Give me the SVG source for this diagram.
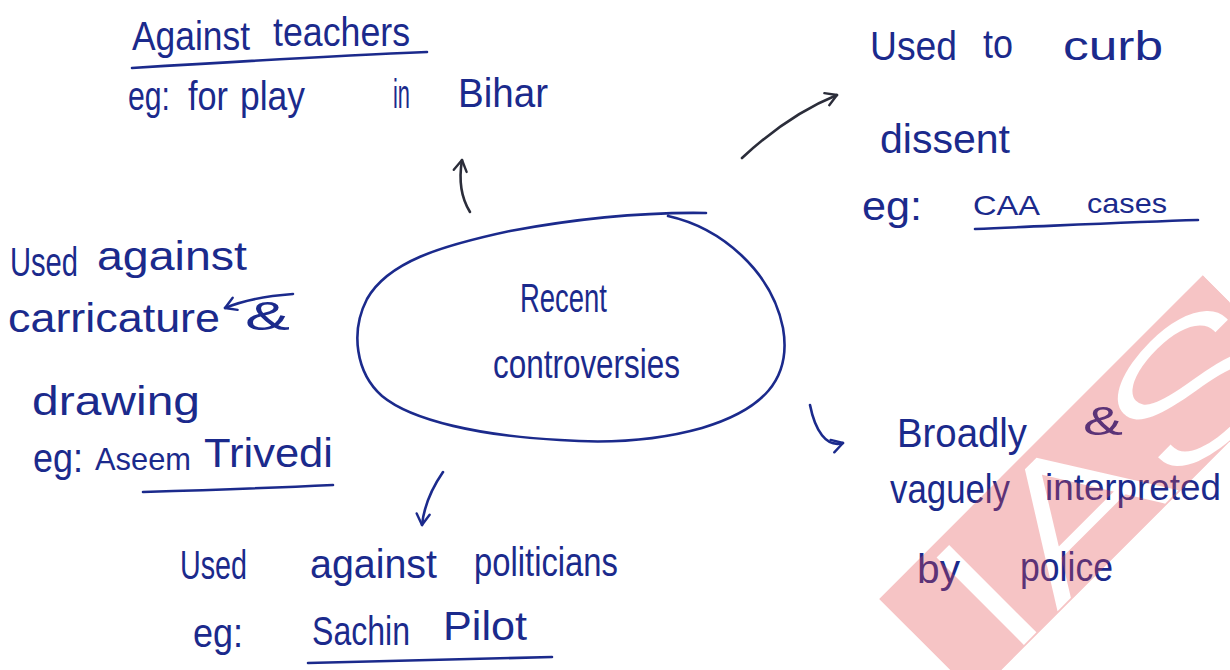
<svg xmlns="http://www.w3.org/2000/svg" width="1230" height="670" viewBox="0 0 1230 670">
  <style>
    .hw { font-family: "Liberation Sans", "DejaVu Sans", sans-serif; font-size: 40px; fill: #1b2a8c; }
    .sm { font-size: 28px; }
    .ink { fill: none; stroke: #1b2a8c; stroke-width: 2.6; stroke-linecap: round; stroke-linejoin: round; }
    .dark { stroke: #2b2d3a; }
  </style>
  <defs>
    <marker id="barb" viewBox="0 0 16 16" refX="14" refY="8" markerWidth="16" markerHeight="16" markerUnits="userSpaceOnUse" orient="auto">
      <path d="M3,1.5 L14,8 L3,14.5" fill="none" stroke="context-stroke" stroke-width="2.4" stroke-linecap="round" stroke-linejoin="round"/>
    </marker>
    <mask id="wm-letters" maskUnits="userSpaceOnUse" x="150" y="1000" width="560" height="230">
      <rect x="198" y="1045" width="458" height="137" fill="#fff"/>
      <text x="240" y="1178" font-family="Roboto, 'Liberation Sans', sans-serif" font-weight="200" font-size="168" textLength="412" lengthAdjust="spacingAndGlyphs" fill="#000" stroke="#000" stroke-width="4">IAS</text>
    </mask>
  </defs>

  <rect width="1230" height="670" fill="#ffffff"/>

  <!-- central idea -->
  <g id="node-center">
    <path class="ink" d="M668,216 C722,228 772,272 783,328 C792,380 762,410 702,428 C652,442 600,443 560,440 C482,436 412,421 382,396 C356,373 350,332 367,299 C388,262 440,246 510,231 C580,218 642,212 706,213"/>
    <text class="hw" x="520" y="312" textLength="87" lengthAdjust="spacingAndGlyphs">Recent</text>
    <text class="hw" x="493" y="378" textLength="187" lengthAdjust="spacingAndGlyphs">controversies</text>
  </g>

  <!-- top left: teachers -->
  <g id="node-teachers">
    <text class="hw" x="132" y="50" textLength="118" lengthAdjust="spacingAndGlyphs">Against</text>
    <text class="hw" x="273" y="46" textLength="137" lengthAdjust="spacingAndGlyphs">teachers</text>
    <path class="ink" d="M132,68 C230,62 330,56 427,52"/>
    <text class="hw" x="128" y="110" textLength="42" lengthAdjust="spacingAndGlyphs">eg:</text>
    <text class="hw" x="188" y="110" textLength="40" lengthAdjust="spacingAndGlyphs">for</text>
    <text class="hw" x="240" y="110" textLength="65" lengthAdjust="spacingAndGlyphs">play</text>
    <text class="hw" x="393" y="108" textLength="17" lengthAdjust="spacingAndGlyphs">in</text>
    <text class="hw" x="458" y="107" textLength="90" lengthAdjust="spacingAndGlyphs">Bihar</text>
  </g>

  <!-- top right: dissent -->
  <g id="node-dissent">
    <text class="hw" x="870" y="60" textLength="87" lengthAdjust="spacingAndGlyphs">Used</text>
    <text class="hw" x="983" y="58" textLength="30" lengthAdjust="spacingAndGlyphs">to</text>
    <text class="hw" x="1063" y="60" textLength="100" lengthAdjust="spacingAndGlyphs">curb</text>
    <text class="hw" x="880" y="153" textLength="130" lengthAdjust="spacingAndGlyphs">dissent</text>
    <text class="hw" x="862" y="220" textLength="60" lengthAdjust="spacingAndGlyphs">eg:</text>
    <text class="hw sm" x="973" y="215" textLength="67" lengthAdjust="spacingAndGlyphs">CAA</text>
    <text class="hw sm" x="1087" y="213" textLength="80" lengthAdjust="spacingAndGlyphs">cases</text>
    <path class="ink" d="M975,229 C1050,226 1130,222 1198,220"/>
  </g>

  <!-- left: caricature -->
  <g id="node-caricature">
    <text class="hw" x="10" y="276" textLength="68" lengthAdjust="spacingAndGlyphs">Used</text>
    <text class="hw" x="97" y="270" textLength="150" lengthAdjust="spacingAndGlyphs">against</text>
    <text class="hw" x="8" y="332" textLength="212" lengthAdjust="spacingAndGlyphs">carricature</text>
    <text class="hw" x="245" y="330" textLength="45" lengthAdjust="spacingAndGlyphs">&amp;</text>
    <text class="hw" x="32" y="415" textLength="168" lengthAdjust="spacingAndGlyphs">drawing</text>
    <text class="hw" x="33" y="472" textLength="50" lengthAdjust="spacingAndGlyphs">eg:</text>
    <text class="hw" x="95" y="470" font-size="32" style="font-size:32px" textLength="96" lengthAdjust="spacingAndGlyphs">Aseem</text>
    <text class="hw" x="204" y="467" textLength="129" lengthAdjust="spacingAndGlyphs">Trivedi</text>
    <path class="ink" d="M143,492 C210,490 270,488 333,485"/>
  </g>

  <!-- bottom: politicians -->
  <g id="node-politicians">
    <text class="hw" x="180" y="579" textLength="67" lengthAdjust="spacingAndGlyphs">Used</text>
    <text class="hw" x="310" y="578" textLength="127" lengthAdjust="spacingAndGlyphs">against</text>
    <text class="hw" x="474" y="576" textLength="144" lengthAdjust="spacingAndGlyphs">politicians</text>
    <text class="hw" x="193" y="647" textLength="50" lengthAdjust="spacingAndGlyphs">eg:</text>
    <text class="hw" x="312" y="645" textLength="98" lengthAdjust="spacingAndGlyphs">Sachin</text>
    <text class="hw" x="443" y="640" textLength="84" lengthAdjust="spacingAndGlyphs">Pilot</text>
    <path class="ink" d="M308,663 C400,661 480,659 552,657"/>
  </g>

  <!-- bottom right: police -->
  <g id="node-police">
    <text class="hw" x="897" y="447" textLength="130" lengthAdjust="spacingAndGlyphs">Broadly</text>
    <text class="hw" x="1083" y="435" textLength="40" lengthAdjust="spacingAndGlyphs">&amp;</text>
    <text class="hw" x="890" y="503" textLength="120" lengthAdjust="spacingAndGlyphs">vaguely</text>
    <text class="hw" x="1045" y="500" style="font-size:36px" textLength="176" lengthAdjust="spacingAndGlyphs">interpreted</text>
    <text class="hw" x="917" y="583" textLength="43" lengthAdjust="spacingAndGlyphs">by</text>
    <text class="hw" x="1020" y="581" textLength="93" lengthAdjust="spacingAndGlyphs">police</text>
  </g>

  <!-- arrows out of the central idea -->
  <g id="connectors" class="ink" marker-end="url(#barb)">
    <path class="ink dark" d="M470,212 C460,196 459,178 462,160"/>
    <path class="ink dark" d="M742,158 C770,132 800,110 837,95"/>
    <path class="ink" d="M293,294 C265,296 242,301 225,308"/>
    <path class="ink" d="M443,472 C432,488 424,506 422,525"/>
    <path class="ink" d="M810,405 C815,430 826,448 843,443"/>
  </g>

  <!-- translucent stamp across the lower right corner -->
  <g id="stamp" transform="rotate(-45)">
    <rect x="198" y="1045" width="458" height="137" fill="#e2494a" fill-opacity="0.32" mask="url(#wm-letters)"/>
  </g>
</svg>
